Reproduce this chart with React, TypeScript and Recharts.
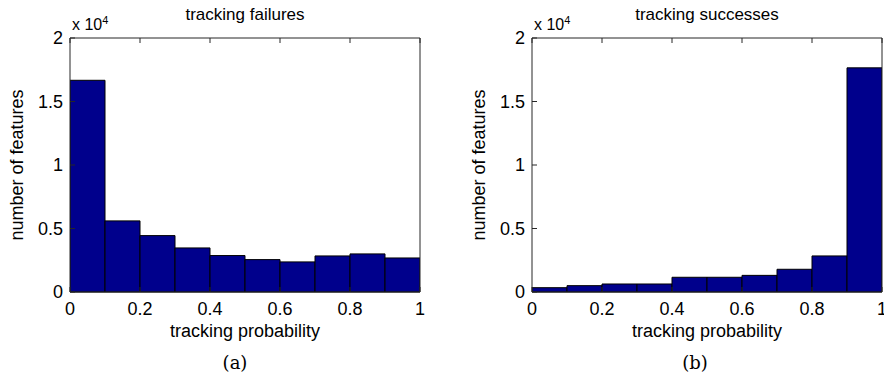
import React from "react";
import { Bar, BarChart, XAxis, YAxis } from "recharts";

const binCenters = [0.05, 0.15, 0.25, 0.35, 0.45, 0.55, 0.65, 0.75, 0.85, 0.95];
const failureCounts = [16670, 5600, 4440, 3470, 2870, 2550, 2370, 2840, 3000, 2680];
const successCounts = [340, 500, 630, 630, 1160, 1160, 1310, 1790, 2840, 17650];
const xTicks = [0, 0.2, 0.4, 0.6, 0.8, 1];
const yTicks = [0, 5000, 10000, 15000, 20000];

const FONT = "'Liberation Sans', Arial, Helvetica, sans-serif";
const AXIS = "#262626";
const BAR = "#00008c";

const fmtX = (v: number) => String(v);
const fmtY = (v: number) => String(v / 10000);
const blank = () => "";

function Histogram({
  counts,
  title,
  caption,
  captionX,
  left,
  width,
}: {
  counts: number[];
  title: string;
  caption: string;
  captionX: number;
  left: number;
  width: number;
}) {
  const data = binCenters.map((x, i) => ({ x, v: counts[i] }));
  const tick = { fill: "#000", fontSize: 18, fontFamily: FONT };
  const plotLeft = 70;
  const plotRight = width - 20;
  return (
    <div style={{ position: "absolute", left, top: 0, width, height: 377 }}>
      <BarChart
        width={width}
        height={377}
        data={data}
        barCategoryGap={0}
        barGap={0}
        margin={{ top: 37, right: 19, bottom: 84, left: 20 }}
      >
        <XAxis
          xAxisId="b"
          type="number"
          dataKey="x"
          domain={[0, 1]}
          ticks={xTicks}
          tickFormatter={fmtX}
          tickSize={-5}
          tickMargin={15}
          stroke={AXIS}
          tick={tick}
          height={1}
          allowDataOverflow
        />
        <XAxis
          xAxisId="t"
          orientation="top"
          type="number"
          dataKey="x"
          domain={[0, 1]}
          ticks={xTicks}
          tickFormatter={blank}
          tickSize={-5}
          stroke={AXIS}
          height={1}
        />
        <YAxis
          yAxisId="l"
          domain={[0, 20000]}
          ticks={yTicks}
          tickFormatter={fmtY}
          tickSize={-5}
          tickMargin={12}
          stroke={AXIS}
          tick={tick}
          width={50}
          label={{
            value: "number of features",
            angle: -90,
            position: "insideLeft",
            offset: -3,
            style: { fill: "#000", fontSize: 18, fontFamily: FONT, textAnchor: "middle" },
          }}
        />
        <YAxis
          yAxisId="r"
          orientation="right"
          domain={[0, 20000]}
          ticks={yTicks}
          tickFormatter={blank}
          tickSize={-5}
          stroke={AXIS}
          width={1}
        />
        <Bar
          xAxisId="b"
          yAxisId="l"
          dataKey="v"
          fill={BAR}
          stroke="#000"
          strokeWidth={1}
          isAnimationActive={false}
        />
      </BarChart>
      <div
        style={{
          position: "absolute",
          left: plotLeft,
          width: plotRight - plotLeft,
          top: 5,
          textAlign: "center",
          fontFamily: FONT,
          fontSize: 17,
        }}
      >
        {title}
      </div>
      <div
        style={{
          position: "absolute",
          left: plotLeft + 2,
          top: 14,
          fontFamily: FONT,
          fontSize: 16,
        }}
      >
        x 10<sup style={{ fontSize: 11, verticalAlign: "6px" }}>4</sup>
      </div>
      <div
        style={{
          position: "absolute",
          left: plotLeft,
          width: plotRight - plotLeft,
          top: 321,
          textAlign: "center",
          fontFamily: FONT,
          fontSize: 18,
        }}
      >
        tracking probability
      </div>
      <div
        style={{
          position: "absolute",
          left: captionX - 40,
          width: 80,
          top: 352,
          textAlign: "center",
          fontFamily: "'DejaVu Serif', serif",
          fontSize: 18,
        }}
      >
        {caption}
      </div>
    </div>
  );
}

export default function App() {
  return (
    <div style={{ position: "absolute", left: 0, top: 0, width: 884, height: 377, background: "#fff", overflow: "hidden" }}>
      <Histogram counts={failureCounts} title="tracking failures" caption="(a)" captionX={235} left={0} width={440} />
      <Histogram counts={successCounts} title="tracking successes" caption="(b)" captionX={233} left={462} width={440} />
    </div>
  );
}
